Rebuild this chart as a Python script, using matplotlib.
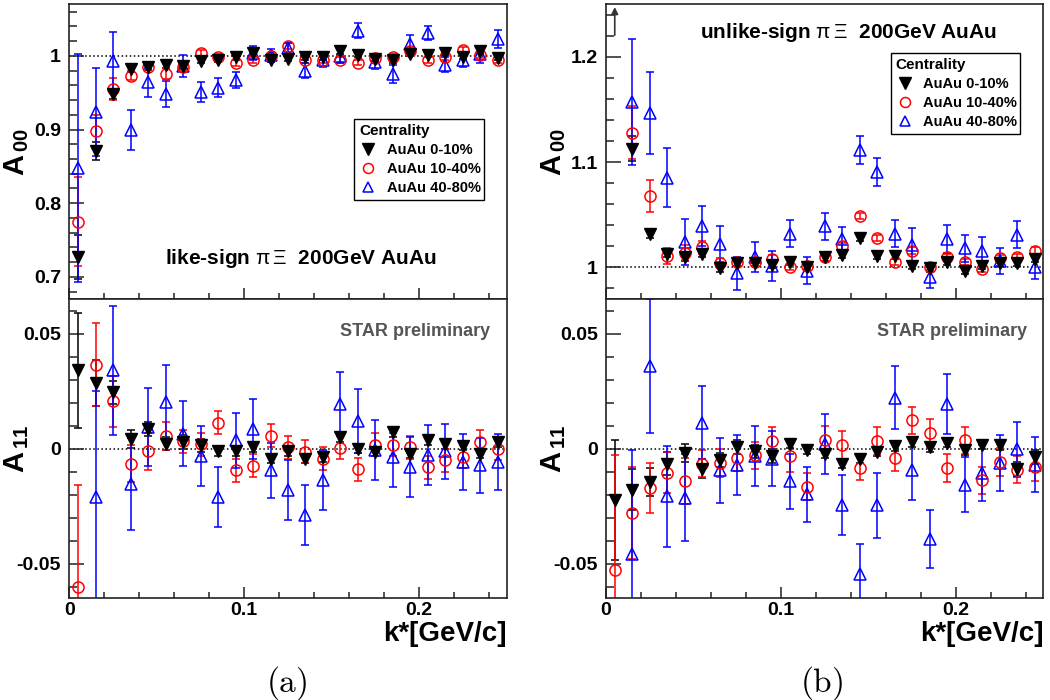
import numpy as np
import matplotlib
matplotlib.use("Agg")
import matplotlib.pyplot as plt
from matplotlib.lines import Line2D
from matplotlib.ticker import MultipleLocator, FixedLocator

plt.rcParams['font.family'] = ['Liberation Sans', 'DejaVu Sans']
plt.rcParams['mathtext.fontset'] = 'custom'
plt.rcParams['mathtext.rm'] = 'Liberation Sans'
plt.rcParams['mathtext.it'] = 'Liberation Sans'
plt.rcParams['mathtext.bf'] = 'Liberation Sans:bold'

nan = np.nan
kstar = [0.005, 0.015, 0.025, 0.035, 0.045, 0.055, 0.065, 0.075, 0.085, 0.095,
         0.105, 0.115, 0.125, 0.135, 0.145, 0.155, 0.165, 0.175, 0.185, 0.195,
         0.205, 0.215, 0.225, 0.235, 0.245]
series_labels = ["AuAu 0-10%", "AuAu 10-40%", "AuAu 40-80%"]

# ---- (a) like-sign, A00
like_a00_c0 = [0.727, 0.871, 0.948, 0.982, 0.9855, 0.987, 0.986, 0.993, 0.9946, 0.998, 1.004, 0.995, 0.996,
               0.998, 0.998, 1.006, 1.001, 0.996, 0.994, 1.003, 1.001, 1.004, 0.999, 1.006, 0.997]
like_a00_c0_err = [0.03, 0.012, 0.006, 0.004, 0.004, 0.004, 0.004, 0.003, 0.003, 0.003, 0.003, 0.003, 0.003,
                   0.003, 0.003, 0.003, 0.003, 0.003, 0.003, 0.003, 0.003, 0.003, 0.003, 0.003, 0.003]
like_a00_c1 = [0.775, 0.898, 0.955, 0.973, 0.9855, 0.976, 0.9855, 1.004, 0.999, 0.990, 0.995, 1.000, 1.014,
               0.9946, 0.995, 0.995, 0.991, 0.997, 0.998, 1.007, 0.995, 0.999, 1.008, 1.001, 0.995]
like_a00_c1_err = [0.06, 0.022, 0.015, 0.006, 0.005, 0.008, 0.005, 0.004, 0.004, 0.004, 0.004, 0.004, 0.004,
                   0.004, 0.004, 0.004, 0.004, 0.004, 0.004, 0.004, 0.004, 0.004, 0.004, 0.004, 0.004]
like_a00_c2 = [0.848, 0.9235, 0.993, 0.8995, 0.964, 0.948, 0.986, 0.951, 0.957, 0.967, 1.004, 1.001, 1.011,
               0.980, 0.9946, 1.000, 1.034, 0.992, 0.9755, 1.016, 1.031, 0.988, 0.9946, 1.002, 1.023]
like_a00_c2_err = [0.155, 0.06, 0.04, 0.027, 0.02, 0.018, 0.015, 0.014, 0.013, 0.011, 0.009, 0.009, 0.006,
                   0.01, 0.01, 0.01, 0.01, 0.01, 0.012, 0.012, 0.01, 0.01, 0.01, 0.012, 0.012]

# ---- (a) like-sign, A11
like_a11_c0 = [0.034, 0.0286, 0.0246, 0.0043, 0.0087, 0.0022, 0.0029, 0.0014, -0.001, -0.001, 0.0007, -0.0043,
               -0.0012, -0.0043, -0.0036, 0.005, 0.0, -0.0014, 0.0072, -0.0022, 0.0036, 0.0019, 0.0013, -0.0022, 0.0028]
like_a11_c0_err = [0.025, 0.01, 0.005, 0.004, 0.003, 0.003, 0.003, 0.003, 0.002, 0.002, 0.002, 0.002, 0.002,
                   0.002, 0.002, 0.002, 0.002, 0.002, 0.002, 0.002, 0.002, 0.002, 0.002, 0.002, 0.002]
like_a11_c1 = [-0.0599, 0.0365, 0.0206, -0.0065, -0.0012, 0.0055, 0.0033, 0.0019, 0.0112, -0.0094, -0.0075, 0.0055,
               0.0005, -0.0014, -0.0043, 0.0003, -0.009, 0.0017, 0.0017, 0.0007, -0.008, -0.005, -0.0036, 0.0029, 0.0]
like_a11_c1_err = [0.044, 0.018, 0.011, 0.008, 0.008, 0.006, 0.005, 0.005, 0.005, 0.005, 0.005, 0.005, 0.005,
                   0.005, 0.005, 0.005, 0.005, 0.005, 0.005, 0.005, 0.005, 0.005, 0.005, 0.005, 0.005]
like_a11_c2 = [nan, -0.021, 0.034, -0.0152, 0.0094, 0.0203, 0.0065, -0.0033, -0.021, 0.0036, 0.0087, -0.0094,
               -0.0178, -0.029, -0.0138, 0.0193, 0.0119, -0.0007, -0.0036, -0.008, -0.0029, -0.0012, -0.0058, -0.0072, -0.0058]
like_a11_c2_err = [nan, 0.046, 0.028, 0.02, 0.017, 0.016, 0.014, 0.013, 0.013, 0.012, 0.013, 0.012, 0.013,
                   0.013, 0.013, 0.014, 0.014, 0.013, 0.013, 0.013, 0.013, 0.012, 0.012, 0.012, 0.012]

# ---- (b) unlike-sign, A00 (first bin off scale -> arrow)
unlike_a00_c0 = [nan, 1.1127, 1.0317, 1.0127, 1.0095, 1.0127, 0.999, 1.004, 1.004, 1.002, 1.005, 1.0006, 1.0095,
                 1.0117, 1.028, 1.011, 1.011, 1.0016, 0.999, 1.0054, 0.9968, 1.0016, 1.004, 1.004, 1.008]
unlike_a00_c0_err = [nan, 0.012, 0.004, 0.003, 0.003, 0.003, 0.003, 0.003, 0.003, 0.003, 0.003, 0.003, 0.003,
                     0.003, 0.003, 0.003, 0.003, 0.003, 0.003, 0.003, 0.003, 0.003, 0.003, 0.003, 0.003]
unlike_a00_c1 = [nan, 1.128, 1.068, 1.0108, 1.014, 1.019, 1.004, 1.005, 1.0054, 1.008, 1.0006, 1.0016, 1.0095,
                 1.02, 1.049, 1.028, 1.0054, 1.016, 1.0006, 1.010, 1.0054, 0.9984, 1.0086, 1.010, 1.016]
unlike_a00_c1_err = [nan, 0.025, 0.015, 0.008, 0.007, 0.006, 0.005, 0.004, 0.004, 0.004, 0.003, 0.003, 0.003,
                     0.003, 0.003, 0.003, 0.003, 0.003, 0.003, 0.003, 0.003, 0.003, 0.003, 0.003, 0.003]
unlike_a00_c2 = [nan, 1.157, 1.147, 1.085, 1.0244, 1.039, 1.022, 0.9943, 1.010, 1.0013, 1.032, 0.9968, 1.039,
                 1.0267, 1.1117, 1.0905, 1.032, 1.021, 0.991, 1.027, 1.018, 1.016, 1.006, 1.031, 1.0006]
unlike_a00_c2_err = [nan, 0.06, 0.039, 0.028, 0.022, 0.019, 0.017, 0.016, 0.014, 0.014, 0.013, 0.013, 0.013,
                     0.012, 0.0135, 0.013, 0.013, 0.016, 0.011, 0.013, 0.013, 0.013, 0.012, 0.013, 0.012]

# ---- (b) unlike-sign, A11
unlike_a11_c0 = [-0.0222, -0.0178, -0.0145, -0.0065, -0.0019, -0.0087, -0.0048, 0.0007, -0.0012, -0.0033, 0.0022,
                 -0.0004, -0.0022, -0.0065, -0.0043, -0.0014, 0.001, 0.0029, 0.0007, 0.0025, -0.0007, 0.0017, 0.0014,
                 -0.0087, -0.0036]
unlike_a11_c0_err = [0.026, 0.009, 0.006, 0.005, 0.004, 0.004, 0.003, 0.003, 0.003, 0.003, 0.002, 0.002, 0.002,
                     0.002, 0.002, 0.002, 0.002, 0.002, 0.002, 0.002, 0.002, 0.002, 0.002, 0.003, 0.003]
unlike_a11_c1 = [-0.0529, -0.028, -0.0171, -0.0104, -0.0141, -0.0065, -0.0062, -0.0039, -0.0029, 0.0032, -0.0033,
                 -0.0165, 0.0039, 0.0017, -0.0084, 0.0033, -0.0039, 0.0123, 0.0068, -0.0084, 0.0036, -0.0138,
                 -0.0058, -0.0091, -0.008]
unlike_a11_c1_err = [0.05, 0.02, 0.011, 0.009, 0.01, 0.006, 0.006, 0.006, 0.006, 0.006, 0.007, 0.006, 0.006,
                     0.006, 0.005, 0.006, 0.006, 0.006, 0.006, 0.006, 0.006, 0.006, 0.006, 0.006, 0.006]
unlike_a11_c2 = [nan, -0.0457, 0.0358, -0.0207, -0.0213, 0.0113, -0.0094, -0.0072, -0.0032, -0.0043, -0.0142,
                 -0.0198, 0.0019, -0.0243, -0.0543, -0.0246, 0.0222, -0.0094, -0.0391, 0.0193, -0.0157, -0.0106,
                 -0.0062, -0.0003, -0.007]
unlike_a11_c2_err = [nan, 0.045, 0.029, 0.022, 0.019, 0.016, 0.014, 0.013, 0.013, 0.012, 0.012, 0.012, 0.013,
                     0.013, 0.013, 0.014, 0.0136, 0.013, 0.0126, 0.013, 0.012, 0.012, 0.012, 0.012, 0.012]

arrow_value_range = (1.218, 1.25)

# ---------------- styling ----------------
styles = [
    dict(marker='v', color='black', mfc='black', mec='black', ms=9),
    dict(marker='o', color='red', mfc='none', mec='red', ms=8, mew=1.1),
    dict(marker='^', color='blue', mfc='none', mec='blue', ms=8.5, mew=1.1),
]
draw_order = [2, 1, 0]

W, H = 1050, 700
fig = plt.figure(figsize=(10.5, 7.0), dpi=100)

def ax_rect(x0, x1, ytop, ybot):
    return [x0 / W, 1 - ybot / H, (x1 - x0) / W, (ybot - ytop) / H]

ax_tl = fig.add_axes(ax_rect(69.3, 506.7, 4.3, 299))
ax_bl = fig.add_axes(ax_rect(69.3, 506.7, 299, 598.3))
ax_tr = fig.add_axes(ax_rect(606, 1043.3, 4.3, 299))
ax_br = fig.add_axes(ax_rect(606, 1043.3, 299, 598.3))

panels = [
    (ax_tl, [like_a00_c0, like_a00_c1, like_a00_c2], [like_a00_c0_err, like_a00_c1_err, like_a00_c2_err]),
    (ax_bl, [like_a11_c0, like_a11_c1, like_a11_c2], [like_a11_c0_err, like_a11_c1_err, like_a11_c2_err]),
    (ax_tr, [unlike_a00_c0, unlike_a00_c1, unlike_a00_c2], [unlike_a00_c0_err, unlike_a00_c1_err, unlike_a00_c2_err]),
    (ax_br, [unlike_a11_c0, unlike_a11_c1, unlike_a11_c2], [unlike_a11_c0_err, unlike_a11_c1_err, unlike_a11_c2_err]),
]

for ax, vals, errs in panels:
    for i in draw_order:
        st = styles[i]
        ax.errorbar(kstar, vals[i], yerr=errs[i], fmt='none', ecolor=st['color'],
                    elinewidth=1.1, capsize=3, capthick=1.1, zorder=2 + i * 0.1)
        ax.plot(kstar, vals[i], linestyle='none', marker=st['marker'], ms=st['ms'],
                mfc=st['mfc'], mec=st['mec'], mew=st.get('mew', 1.0), zorder=3 + (2 - i))
    ax.set_xlim(0, 0.25)
    for s in ax.spines.values():
        s.set_linewidth(1.2)
        s.set_color('#222222')
    ax.xaxis.set_major_locator(MultipleLocator(0.1))
    ax.xaxis.set_minor_locator(MultipleLocator(0.02))
    ax.tick_params(axis='both', which='both', direction='in', top=False, right=False,
                   width=1.1, color='#222222')
    ax.tick_params(axis='y', which='major', length=11, labelsize=14, pad=6)
    ax.tick_params(axis='y', which='minor', length=6)
    ax.tick_params(axis='x', which='major', length=8, labelsize=14, pad=3)
    ax.tick_params(axis='x', which='minor', length=4)
    for lab in ax.get_yticklabels() + ax.get_xticklabels():
        lab.set_fontweight('bold')

# top panels
ax_tl.set_ylim(0.67, 1.07)
ax_tl.yaxis.set_major_locator(FixedLocator([0.7, 0.8, 0.9, 1.0]))
ax_tl.set_yticklabels(['0.7', '0.8', '0.9', '1'], fontweight='bold')
ax_tl.yaxis.set_minor_locator(MultipleLocator(0.02))
ax_tr.set_ylim(0.97, 1.25)
ax_tr.yaxis.set_major_locator(FixedLocator([1.0, 1.1, 1.2]))
ax_tr.set_yticklabels(['1', '1.1', '1.2'], fontweight='bold')
ax_tr.yaxis.set_minor_locator(MultipleLocator(0.02))
for ax in (ax_tl, ax_tr):
    ax.tick_params(axis='x', labelbottom=False)
    ax.axhline(1.0, color='black', linestyle=':', linewidth=1.1, zorder=1)

# bottom panels
for ax in (ax_bl, ax_br):
    ax.set_ylim(-0.065, 0.065)
    ax.yaxis.set_major_locator(FixedLocator([-0.05, 0.0, 0.05]))
    ax.set_yticklabels(['-0.05', '0', '0.05'], fontweight='bold')
    ax.yaxis.set_minor_locator(MultipleLocator(0.01))
    ax.xaxis.set_major_locator(FixedLocator([0.0, 0.1, 0.2]))
    ax.set_xticklabels(['0', '0.1', '0.2'], fontweight='bold')
    ax.axhline(0.0, color='black', linestyle=':', linewidth=1.1, zorder=1)
    ax.text(0.962, 0.89, 'STAR preliminary', transform=ax.transAxes, ha='right', va='center',
            fontsize=13, fontweight='bold', color='#555555')
    ax.text(1.0, -0.075, 'k*[GeV/c]', transform=ax.transAxes, ha='right', va='top',
            fontsize=20, fontweight='bold')

# y labels
for ax, lab in ((ax_tl, r'$\mathbf{A}_{\,\mathbf{00}}$'), (ax_bl, r'$\mathbf{A}_{\,\mathbf{11}}$'),
                (ax_tr, r'$\mathbf{A}_{\,\mathbf{00}}$'), (ax_br, r'$\mathbf{A}_{\,\mathbf{11}}$')):
    ax.set_ylabel(lab, fontsize=21, rotation=90)
    ax.yaxis.set_label_coords(-0.088, 0.5)

# titles
ax_tl.text(0.219, 0.139, r'like-sign $\pi\,\Xi$  200GeV AuAu', transform=ax_tl.transAxes,
           ha='left', va='center', fontsize=15, fontweight='bold')
ax_tr.text(0.215, 0.906, r'unlike-sign $\pi\,\Xi$  200GeV AuAu', transform=ax_tr.transAxes,
           ha='left', va='center', fontsize=15, fontweight='bold')

# off-scale arrow in unlike-sign A00
ax_tr.annotate('', xy=(kstar[0], arrow_value_range[1]), xytext=(kstar[0], arrow_value_range[0]),
               arrowprops=dict(arrowstyle='-|>', color='#333333', lw=1.2, mutation_scale=10),
               annotation_clip=False)

# legends
handles = [Line2D([], [], linestyle='none', marker=styles[i]['marker'], ms=styles[i]['ms'] * 0.9,
                  mfc=styles[i]['mfc'], mec=styles[i]['mec'], mew=styles[i].get('mew', 1.0)) for i in range(3)]
for ax, (x0, x1, yt, yb) in ((ax_tl, (0.651, 0.948, 0.611, 0.333)), (ax_tr, (0.651, 0.947, 0.835, 0.553))):
    leg = ax.legend(handles, series_labels, title='Centrality', loc='upper left',
                    bbox_to_anchor=(x0, yb, x1 - x0, yt - yb), mode='expand', borderaxespad=0,
                    fontsize=10.5, title_fontproperties={'weight': 'bold', 'size': 11},
                    frameon=True, fancybox=False, edgecolor='black', framealpha=1,
                    handlelength=1.2, handletextpad=0.7, labelspacing=0.35, borderpad=0.35)
    leg._legend_box.align = 'left'
    leg.get_frame().set_linewidth(1.0)
    for t in leg.get_texts():
        t.set_fontweight('bold')

# panel captions
fig.text(287 / W, 1 - 683 / H, r'$\mathrm{(a)}$', ha='center', va='center', fontsize=24,
         math_fontfamily='cm')
fig.text(822 / W, 1 - 683 / H, r'$\mathrm{(b)}$', ha='center', va='center', fontsize=24,
         math_fontfamily='cm')

fig.savefig('out.png', dpi=100)
